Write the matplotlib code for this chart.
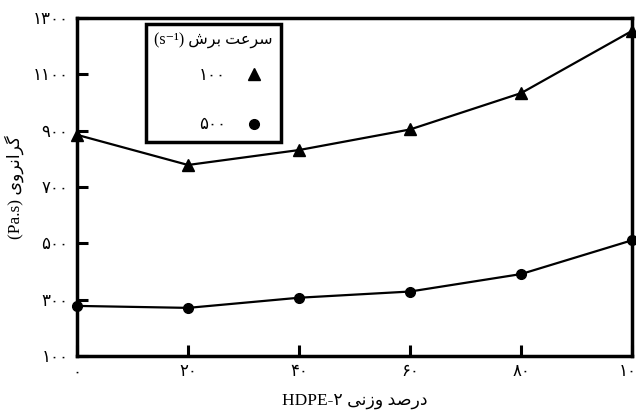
import numpy as np
import matplotlib
matplotlib.use("Agg")
import matplotlib.pyplot as plt

plt.rcParams['font.family'] = ['Liberation Serif', 'DejaVu Sans']

# داده ها
hdpe_pct = [0, 20, 40, 60, 80, 100]
visc_100 = [885, 778, 831, 904, 1033, 1254]
visc_500 = [278, 271, 307, 329, 391, 511]
rate_labels = ['100', '500']
x_ticks = [0, 20, 40, 60, 80, 100]
y_ticks = [100, 300, 500, 700, 900, 1100, 1300]

legend_title = 'سرعت برش'
y_title = 'گرانروی'
x_title = 'درصد وزنی'

# presentation forms: (isolated, final, initial, medial)
FORMS = {
    'ا': (0xFE8D, 0xFE8E, None, None),
    'ب': (0xFE8F, 0xFE90, 0xFE91, 0xFE92),
    'ت': (0xFE95, 0xFE96, 0xFE97, 0xFE98),
    'د': (0xFEA9, 0xFEAA, None, None),
    'ر': (0xFEAD, 0xFEAE, None, None),
    'ز': (0xFEAF, 0xFEB0, None, None),
    'س': (0xFEB1, 0xFEB2, 0xFEB3, 0xFEB4),
    'ش': (0xFEB5, 0xFEB6, 0xFEB7, 0xFEB8),
    'ص': (0xFEB9, 0xFEBA, 0xFEBB, 0xFEBC),
    'ع': (0xFEC9, 0xFECA, 0xFECB, 0xFECC),
    'ن': (0xFEE5, 0xFEE6, 0xFEE7, 0xFEE8),
    'و': (0xFEED, 0xFEEE, None, None),
    'ی': (0xFBFC, 0xFBFD, 0xFBFE, 0xFBFF),
    'گ': (0xFB92, 0xFB93, 0xFB94, 0xFB95),
}


def fa(text):
    """شکل دادن حروف فارسی و برگرداندن ترتیب برای نمایش"""
    out = []
    for i, ch in enumerate(text):
        if ch not in FORMS:
            out.append(ch)
            continue
        prev = text[i - 1] if i > 0 else ''
        nxt = text[i + 1] if i + 1 < len(text) else ''
        jp = prev in FORMS and FORMS[prev][2] is not None
        jn = FORMS[ch][2] is not None and nxt in FORMS
        iso, fin, ini, med = FORMS[ch]
        if jp and jn:
            code = med
        elif jp:
            code = fin
        elif jn:
            code = ini
        else:
            code = iso
        out.append(chr(code))
    return ''.join(reversed(out))


def fa_num(v):
    return str(v).translate(str.maketrans('0123456789', '۰۱۲۳۴۵۶۷۸۹'))


fig = plt.figure(figsize=(6.36, 4.15), dpi=100)
ax = fig.add_axes([0.121, 0.142, 0.873, 0.815])

ax.plot(hdpe_pct, visc_100, color='black', lw=1.6, marker='^', ms=8,
        clip_on=False, zorder=3, label=fa_num(rate_labels[0]))
ax.plot(hdpe_pct, visc_500, color='black', lw=1.6, marker='o', ms=7,
        clip_on=False, zorder=3, label=fa_num(rate_labels[1]))

ax.set_xlim(0, 100)
ax.set_ylim(100, 1300)
ax.set_xticks(x_ticks)
ax.set_xticklabels([fa_num(t) for t in x_ticks])
ax.set_yticks(y_ticks)
ax.set_yticklabels([fa_num(t) for t in y_ticks])
ax.tick_params(direction='in', length=8, width=2.2, labelsize=12, pad=6)
for s in ax.spines.values():
    s.set_linewidth(2.5)

ax.set_xlabel('HDPE-۲ ' + fa(x_title), fontsize=12.5, labelpad=9)
ax.set_ylabel('(Pa.s) ' + fa(y_title), fontsize=12.5, labelpad=6)

leg = ax.legend(loc='upper left', bbox_to_anchor=(0.124, 0.982),
                borderaxespad=0, title='(s⁻¹) ' + fa(legend_title),
                title_fontsize=11.5, fontsize=12, markerfirst=False,
                frameon=True, fancybox=False, framealpha=1,
                edgecolor='black', handlelength=2.2, labelspacing=2.0,
                borderpad=0.5, handletextpad=0.6, alignment='right')
leg.get_frame().set_linewidth(2.5)
leg._legend_box.sep = 14
for h in leg.legend_handles:
    h.set_linestyle('none')

fig.savefig('out.png', dpi=100)
